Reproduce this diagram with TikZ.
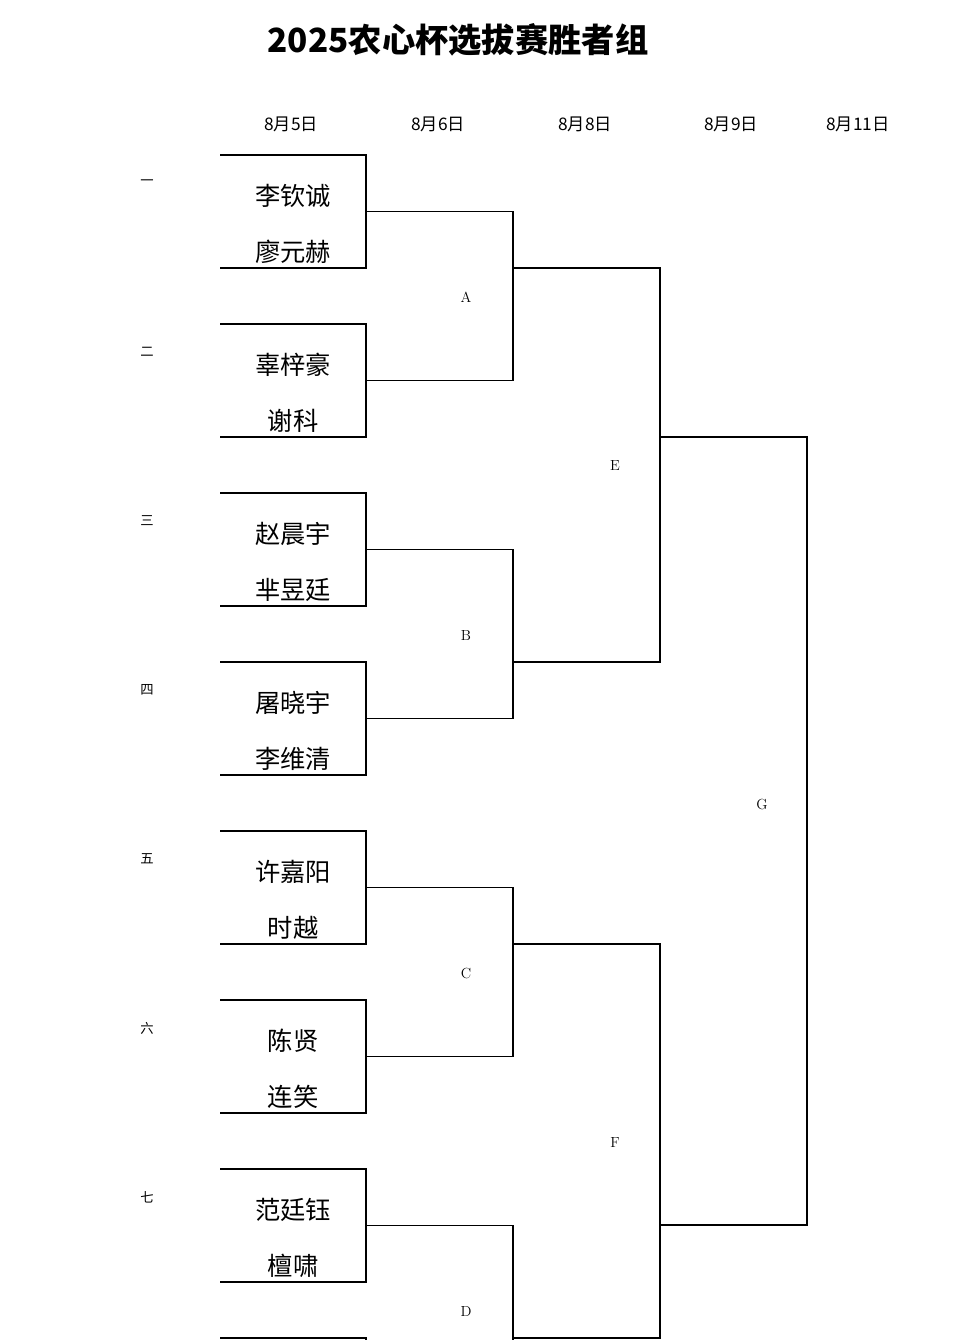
\documentclass[tikz,border=0pt]{standalone}
\usepackage{fontspec}
\newfontfamily\cjk{Noto Sans CJK SC}
\usetikzlibrary{positioning}

\tikzset{
    line/.style={draw, line width=1.1pt},
    player/.style={font=\cjk\fontsize{19}{19}\selectfont, inner sep=0pt},
    day/.style={font=\cjk\fontsize{13}{13}\selectfont, inner sep=0pt},
    seat/.style={font=\cjk\fontsize{10}{10}\selectfont, inner sep=0pt},
    game/.style={font=\fontsize{11}{11}\selectfont, inner sep=0pt},
}

\begin{document}
\begin{tikzpicture}[x=0.0264cm, y=-0.0264cm]
    \useasboundingbox (0,0) rectangle (960,1340);
    \clip (0,0) rectangle (960,1340);
    \fill[white] (0,0) rectangle (960,1340);

    \node[font=\cjk\bfseries\fontsize{25}{25}\selectfont] (title) at (458,40) {2025农心杯选拔赛胜者组};

    % dates
    \foreach \d/\x [count=\i] in {8月5日/291, 8月6日/438, 8月8日/585, 8月9日/731, 8月11日/858}
        \node[day] (day\i) at (\x,124) {\d};

    % first round boxes
    \foreach \sn/\na/\nb [count=\i] in {一/李钦诚/廖元赫, 二/辜梓豪/谢科, 三/赵晨宇/芈昱廷,
            四/屠晓宇/李维清, 五/许嘉阳/时越, 六/陈贤/连笑, 七/范廷钰/檀啸, 八/{}/{}} {
        \pgfmathsetmacro{\ytop}{155+169*(\i-1)}
        \coordinate (tl\i) at (220,\ytop);
        \coordinate (tr\i) at (366,\ytop);
        \coordinate (bl\i) at (220,\ytop+113);
        \coordinate (br\i) at (366,\ytop+113);
        \coordinate (m\i) at (366,\ytop+56.5);
        \draw[line] (tl\i) -- (tr\i) -- (br\i) -- (bl\i);
        \node[seat] (seat\i) at (147,\ytop+28) {\sn};
        \node[player] (pa\i) at (293,\ytop+41) {\na};
        \node[player] (pb\i) at (293,\ytop+97) {\nb};
    }

    % second round
    \foreach \g [count=\i] in {A,B,C,D} {
        \pgfmathtruncatemacro{\u}{2*\i-1}
        \pgfmathtruncatemacro{\v}{2*\i}
        \pgfmathsetmacro{\yg}{297+338*(\i-1)}
        \draw[line] (m\u) -- ++(147,0) |- (m\v);
        \node[game] (g\g) at (466,\yg) {\g};
    }

    % third round
    \foreach \g [count=\i] in {E,F} {
        \pgfmathsetmacro{\yy}{268+676*(\i-1)}
        \pgfmathsetmacro{\yg}{466+676*(\i-1)}
        \coordinate (ea\i) at (513,\yy);
        \coordinate (eb\i) at (513,\yy+394);
        \coordinate (ec\i) at (660,\yy);
        \coordinate (ed\i) at (660,\yy+394);
        \draw[line] (ea\i) -- (ec\i) -- (ed\i) -- (eb\i);
        \node[game] (g\g) at (615,\yg) {\g};
    }

    % final
    \coordinate (fa) at (660,437);
    \coordinate (fb) at (807,437);
    \coordinate (fc) at (807,1225);
    \coordinate (fd) at (660,1225);
    \draw[line] (fa) -- (fb) -- (fc) -- (fd);
    \node[game] (gG) at (762,804) {G};
\end{tikzpicture}
\end{document}
